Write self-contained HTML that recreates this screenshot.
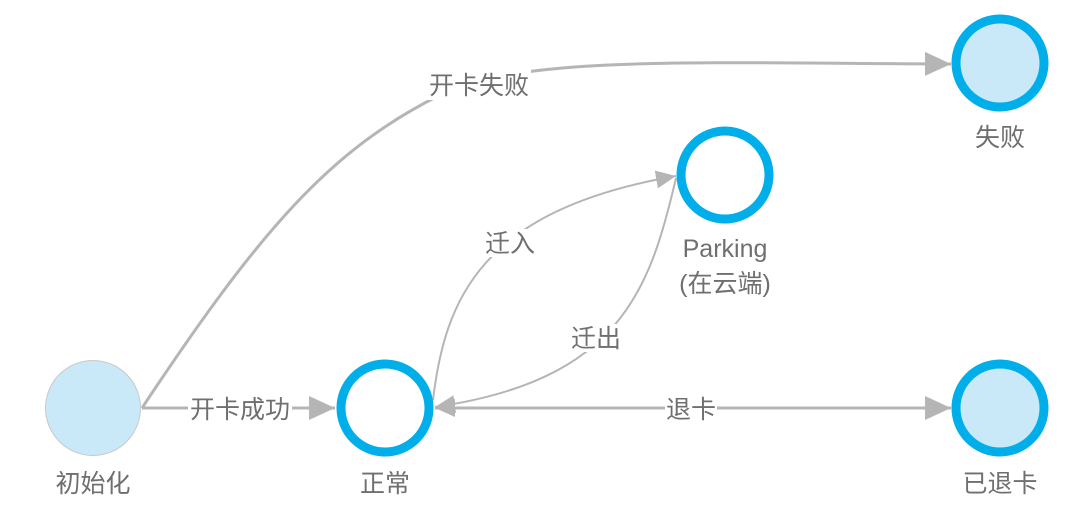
<!DOCTYPE html>
<html><head><meta charset="utf-8"><style>
html,body{margin:0;padding:0;background:#fff;width:1080px;height:526px;overflow:hidden}
text{font-family:"Liberation Sans","Noto Sans CJK SC",sans-serif;fill:#6f6f6f}
</style></head><body>
<svg width="1080" height="526" viewBox="0 0 1080 526">
<defs>
<marker id="A" viewBox="0 0 26 24" refX="26" refY="12" markerWidth="26" markerHeight="24" orient="auto" markerUnits="userSpaceOnUse"><path d="M0,0 L26,12 L0,24z" fill="#b5b5b5"/></marker>
<marker id="s" viewBox="0 0 20 18" refX="20" refY="9" markerWidth="20" markerHeight="18" orient="auto" markerUnits="userSpaceOnUse"><path d="M0,0 L20,9 L0,18z" fill="#b5b5b5"/></marker>
</defs>
<g fill="none" stroke="#b5b5b5">
<path d="M142,408 L335,408" stroke-width="3" marker-end="url(#A)"/>
<path d="M142,408 C260,230 330,150 440,95 C520,55 700,63 951,64" stroke-width="3" marker-end="url(#A)"/>
<path d="M433,400 C445,300 480,210 676,176" stroke-width="2" marker-end="url(#s)"/>
<path d="M676,178 C650,290 620,380 435,407" stroke-width="2" marker-end="url(#s)"/>
<path d="M455,408 L951,408" stroke-width="3" marker-end="url(#A)"/>
<path d="M470,408 L435,408" stroke-width="3" marker-end="url(#s)"/>
</g>
<circle cx="93" cy="408" r="47.5" fill="#c9e8f8" stroke="#c8c8c8" stroke-width="1"/>
<circle cx="385" cy="408" r="44" fill="#fff" stroke="#00aeea" stroke-width="9"/>
<circle cx="725" cy="175" r="44" fill="#fff" stroke="#00aeea" stroke-width="9"/>
<circle cx="1000" cy="63" r="44" fill="#c9e8f8" stroke="#00aeea" stroke-width="9"/>
<circle cx="1000" cy="408" r="44" fill="#c9e8f8" stroke="#00aeea" stroke-width="9"/>
<g font-size="25" text-anchor="middle">
<rect x="188" y="394" width="104" height="28" fill="#fff"/>
<text x="240" y="418">开卡成功</text>
<rect x="427" y="70" width="104" height="30" fill="#fff"/>
<text x="479" y="94">开卡失败</text>
<rect x="484" y="229" width="52" height="28" fill="#fff"/>
<text x="510" y="252">迁入</text>
<rect x="570" y="324" width="52" height="28" fill="#fff"/>
<text x="596" y="347">迁出</text>
<rect x="665" y="394" width="52" height="28" fill="#fff"/>
<text x="691" y="418">退卡</text>
<text x="93" y="492">初始化</text>
<text x="385" y="492">正常</text>
<text x="725" y="257">Parking</text>
<text x="725" y="292">(在云端)</text>
<text x="1000" y="146">失败</text>
<text x="1000" y="492">已退卡</text>
</g>
</svg>
</body></html>
